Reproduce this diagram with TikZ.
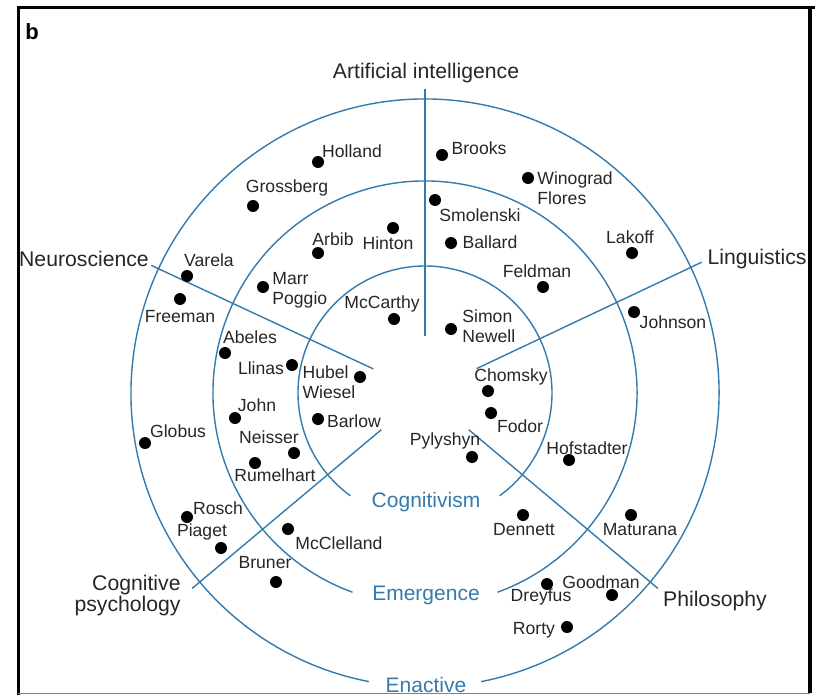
\documentclass[tikz,border=0pt]{standalone}
\usepackage{fontspec}
\setmainfont{Liberation Sans}
\definecolor{ringblue}{RGB}{52,122,172}

\begin{document}
\begin{tikzpicture}[x=0.5pt, y=-0.5pt,
  ring/.style = {draw=ringblue, line width=0.7pt},
  dot/.style = {shape=circle, fill=black, inner sep=0pt, minimum size=6pt},
  person/.style = {inner sep=0pt, align=left, font=\fontsize{8.8}{10}\selectfont, text=black!85},
  field/.style = {inner sep=0pt, align=right, font=\fontsize{10.6}{10.5}\selectfont, text=black!85},
  level/.style = {inner sep=0pt, font=\fontsize{10.5}{12}\selectfont, text=ringblue}]
  \useasboundingbox (0,0) rectangle (817,695);

  % frame
  \draw[line width=1.5pt] (18,695) -- (18,7.5) -- (815,7.5);
  \draw[line width=2pt] (810,7.5) -- (810,693);
  \draw[gray, line width=0.8pt] (18,693.5) -- (810,693.5);
  \node[font=\bfseries\fontsize{11}{12}\selectfont, inner sep=0pt] (panel) at (32,32) {b};

  % rings, open at the bottom for their names
  \coordinate (c) at (425,393);
  \draw[ring] (c) ++(126:127) arc[start angle=126, end angle=414, radius=127];
  \draw[ring] (c) ++(110:212) arc[start angle=110, end angle=430, radius=212];
  \draw[ring] (c) ++(101:294) arc[start angle=101, end angle=439, radius=294];

  % spokes
  \draw[ring] ([shift={(-90:57)}]c) -- ([shift={(-90:304)}]c);
  \draw[ring] ([shift={(-155:57)}]c) -- ([shift={(-155:302)}]c);
  \draw[ring] ([shift={(-25.3:57)}]c) -- ([shift={(-25.3:306)}]c);
  \draw[ring] ([shift={(140:57)}]c) -- ([shift={(140:304)}]c);
  \draw[ring] ([shift={(40:57)}]c) -- ([shift={(40:304)}]c);

  % fields
  \node[field] (ai) at (426,73) {Artificial intelligence};
  \node[field] (neuro) at (84,259) {Neuroscience};
  \node[field] (ling) at (757,259) {Linguistics};
  \node[field, anchor=east] (cogpsy) at (181,596) {Cognitive\\psychology};
  \node[field] (phil) at (715,601) {Philosophy};

  % levels
  \node[level] (cognitivism) at (426,502) {Cognitivism};
  \node[level] (emergence) at (426,595) {Emergence};
  \node[level] (enactive) at (426,685) {Enactive};

  % people
  \node[dot] (holland) at (318,162) {}; \node[person] (holland-t) at (352,151) {Holland};
  \node[dot] (brooks) at (442,155) {}; \node[person] (brooks-t) at (479,148) {Brooks};
  \node[dot] (winograd) at (528,178) {}; \node[person, anchor=west] (winograd-t) at (537,188) {Winograd\\Flores};
  \node[dot] (grossberg) at (253,206) {}; \node[person] (grossberg-t) at (287,188) {Grossberg};
  \node[dot] (smolenski) at (435,200) {}; \node[person] (smolenski-t) at (480,215) {Smolenski};
  \node[dot] (hinton) at (393,228) {}; \node[person] (hinton-t) at (388,243) {Hinton};
  \node[dot] (arbib) at (318,253) {}; \node[person] (arbib-t) at (333,239) {Arbib};
  \node[dot] (ballard) at (451,243) {}; \node[person] (ballard-t) at (490,242) {Ballard};
  \node[dot] (lakoff) at (632,253) {}; \node[person] (lakoff-t) at (630,237) {Lakoff};
  \node[dot] (feldman) at (543,287) {}; \node[person] (feldman-t) at (537,271) {Feldman};
  \node[dot] (varela) at (187,276) {}; \node[person] (varela-t) at (209,260) {Varela};
  \node[dot] (marr) at (263,287) {}; \node[person, anchor=west] (marr-t) at (272,290) {Marr\\Poggio};
  \node[dot] (freeman) at (180,299) {}; \node[person] (freeman-t) at (180,317) {Freeman};
  \node[dot] (mccarthy) at (394,319) {}; \node[person] (mccarthy-t) at (382,304) {McCarthy};
  \node[dot] (simon) at (451,329) {}; \node[person, anchor=west] (simon-t) at (462,326) {Simon\\Newell};
  \node[dot] (johnson) at (634,312) {}; \node[person] (johnson-t) at (673,322) {Johnson};
  \node[dot] (abeles) at (225,353) {}; \node[person] (abeles-t) at (250,337) {Abeles};
  \node[dot] (llinas) at (292,365) {}; \node[person] (llinas-t) at (261,368) {Llinas};
  \node[dot] (hubel) at (360,377) {}; \node[person] (hubel-t) at (329,382) {Hubel\\Wiesel};
  \node[dot] (chomsky) at (488,391) {}; \node[person] (chomsky-t) at (511,377) {Chomsky};
  \node[dot] (fodor) at (491,413) {}; \node[person] (fodor-t) at (520,426) {Fodor};
  \node[dot] (john) at (235,418) {}; \node[person] (john-t) at (257,405) {John};
  \node[dot] (barlow) at (318,419) {}; \node[person] (barlow-t) at (354,421) {Barlow};
  \node[dot] (globus) at (145,443) {}; \node[person] (globus-t) at (178,431) {Globus};
  \node[dot] (neisser) at (294,453) {}; \node[person] (neisser-t) at (269,437) {Neisser};
  \node[dot] (rumelhart) at (255,463) {}; \node[person] (rumelhart-t) at (275,475) {Rumelhart};
  \node[dot] (pylyshyn) at (472,457) {}; \node[person] (pylyshyn-t) at (445,441) {Pylyshyn};
  \node[dot] (hofstadter) at (569,460) {}; \node[person] (hofstadter-t) at (587,448) {Hofstadter};
  \node[dot] (rosch) at (187,517) {}; \node[person] (rosch-t) at (218,508) {Rosch};
  \node[dot] (piaget) at (221,548) {}; \node[person] (piaget-t) at (202,532) {Piaget};
  \node[dot] (mcclelland) at (288,529) {}; \node[person] (mcclelland-t) at (339,543) {McClelland};
  \node[dot] (bruner) at (276,582) {}; \node[person] (bruner-t) at (265,563) {Bruner};
  \node[dot] (dennett) at (523,515) {}; \node[person] (dennett-t) at (524,530) {Dennett};
  \node[dot] (maturana) at (631,515) {}; \node[person] (maturana-t) at (640,530) {Maturana};
  \node[dot] (goodman) at (612,595) {}; \node[person] (goodman-t) at (601,582) {Goodman};
  \node[dot] (dreyfus) at (547,584) {}; \node[person] (dreyfus-t) at (541,597) {Dreyfus};
  \node[dot] (rorty) at (567,627) {}; \node[person] (rorty-t) at (534,630) {Rorty};
\end{tikzpicture}
\end{document}
